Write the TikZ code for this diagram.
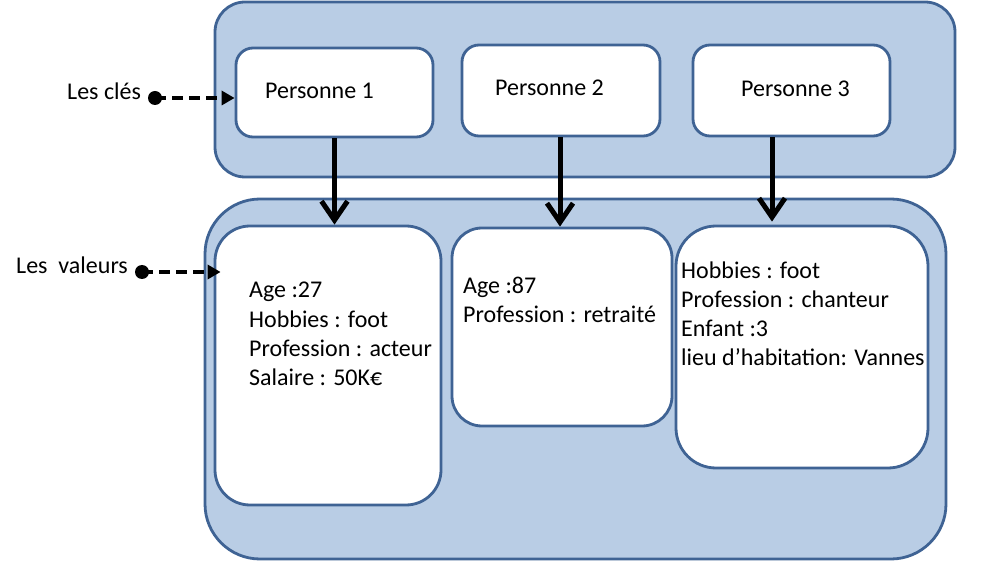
\documentclass[tikz,border=0pt]{standalone}
\usepackage{fontspec}
\setmainfont{Carlito}
\usetikzlibrary{arrows.meta}
\definecolor{boxfill}{HTML}{B9CDE5}
\definecolor{boxline}{HTML}{3F6394}
\begin{document}
\begin{tikzpicture}[x=1pt,y=-1pt,
  container/.style={draw=boxline, fill=boxfill, line width=2.8pt, rounded corners=#1, inner sep=0pt},
  whitebox/.style={draw=boxline, fill=white, line width=2.8pt, rounded corners=#1, inner sep=0pt},
  txt/.style={anchor=base west, inner sep=0pt, font=\fontsize{24}{29}\selectfont},
  bigarrow/.style={line width=5pt, -{Straight Barb[length=19pt,width=26pt,line width=5pt]}},
  dasharrow/.style={line width=4.5pt, dash pattern=on 11pt off 6pt, -{Triangle[length=13pt,width=14pt]}},
  dot/.style={circle, fill=black, inner sep=0pt, minimum size=14pt}]
\useasboundingbox (0,0) rectangle (988,561);
% containers
\node[container=30pt, minimum width=740pt, minimum height=175pt] (keys) at (585,89.5) {};
\node[container=55pt, minimum width=741pt, minimum height=360pt] (vals) at (575.5,379) {};
% key boxes
\node[whitebox=17pt, minimum width=197pt, minimum height=89pt] (p1) at (334.5,92.5) {};
\node[whitebox=17pt, minimum width=198pt, minimum height=91pt] (p2) at (561,90.5) {};
\node[whitebox=17pt, minimum width=197pt, minimum height=91pt] (p3) at (791.5,90.5) {};
% value boxes
\node[whitebox=35pt, minimum width=226pt, minimum height=279pt] (v1) at (328,365.5) {};
\node[whitebox=30pt, minimum width=220pt, minimum height=198pt] (v2) at (562,327) {};
\node[whitebox=40pt, minimum width=252pt, minimum height=242pt] (v3) at (802,347) {};
% key texts
\node[txt] (t1) at (265,99) {Personne 1};
\node[txt] (t2) at (495,96) {Personne 2};
\node[txt] (t3) at (741,97) {Personne 3};
% value texts
\node[txt] (a1) at (249,298) {Age :27};
\node[txt] (a2) at (249,327) {Hobbies : foot};
\node[txt] (a3) at (249,356) {Profession : acteur};
\node[txt] (a4) at (249,385) {Salaire : 50K€};
\node[txt] (b1) at (463,294) {Age :87};
\node[txt] (b2) at (463,323) {Profession : retraité};
\node[txt] (c1) at (681,279) {Hobbies : foot};
\node[txt] (c2) at (681,308) {Profession : chanteur};
\node[txt] (c3) at (681,337) {Enfant :3};
\node[txt] (c4) at (681,366) {lieu d’habitation: Vannes};
% side labels
\node[txt] (lk) at (67,100) {Les clés};
\node[txt] (lv) at (16,274) {Les~~valeurs};
\node[dot] (dk) at (155,98) {};
\node[dot] (dv) at (142,272) {};
% connectors
\draw[dasharrow] (dk.center) -- (p1.west |- dk.center);
\draw[dasharrow] (dv.center) -- ([xshift=7pt]v1.west |- dv.center);
\draw[bigarrow] (p1.south) -- (p1.south |- v1.north);
\draw[bigarrow] ([xshift=-1pt]p2.south) -- ([xshift=-1pt]p2.south |- v2.north);
\draw[bigarrow] ([xshift=-19.5pt]p3.south) -- ([xshift=-19.5pt,yshift=3pt]p3.south |- v3.north);
\end{tikzpicture}
\end{document}
